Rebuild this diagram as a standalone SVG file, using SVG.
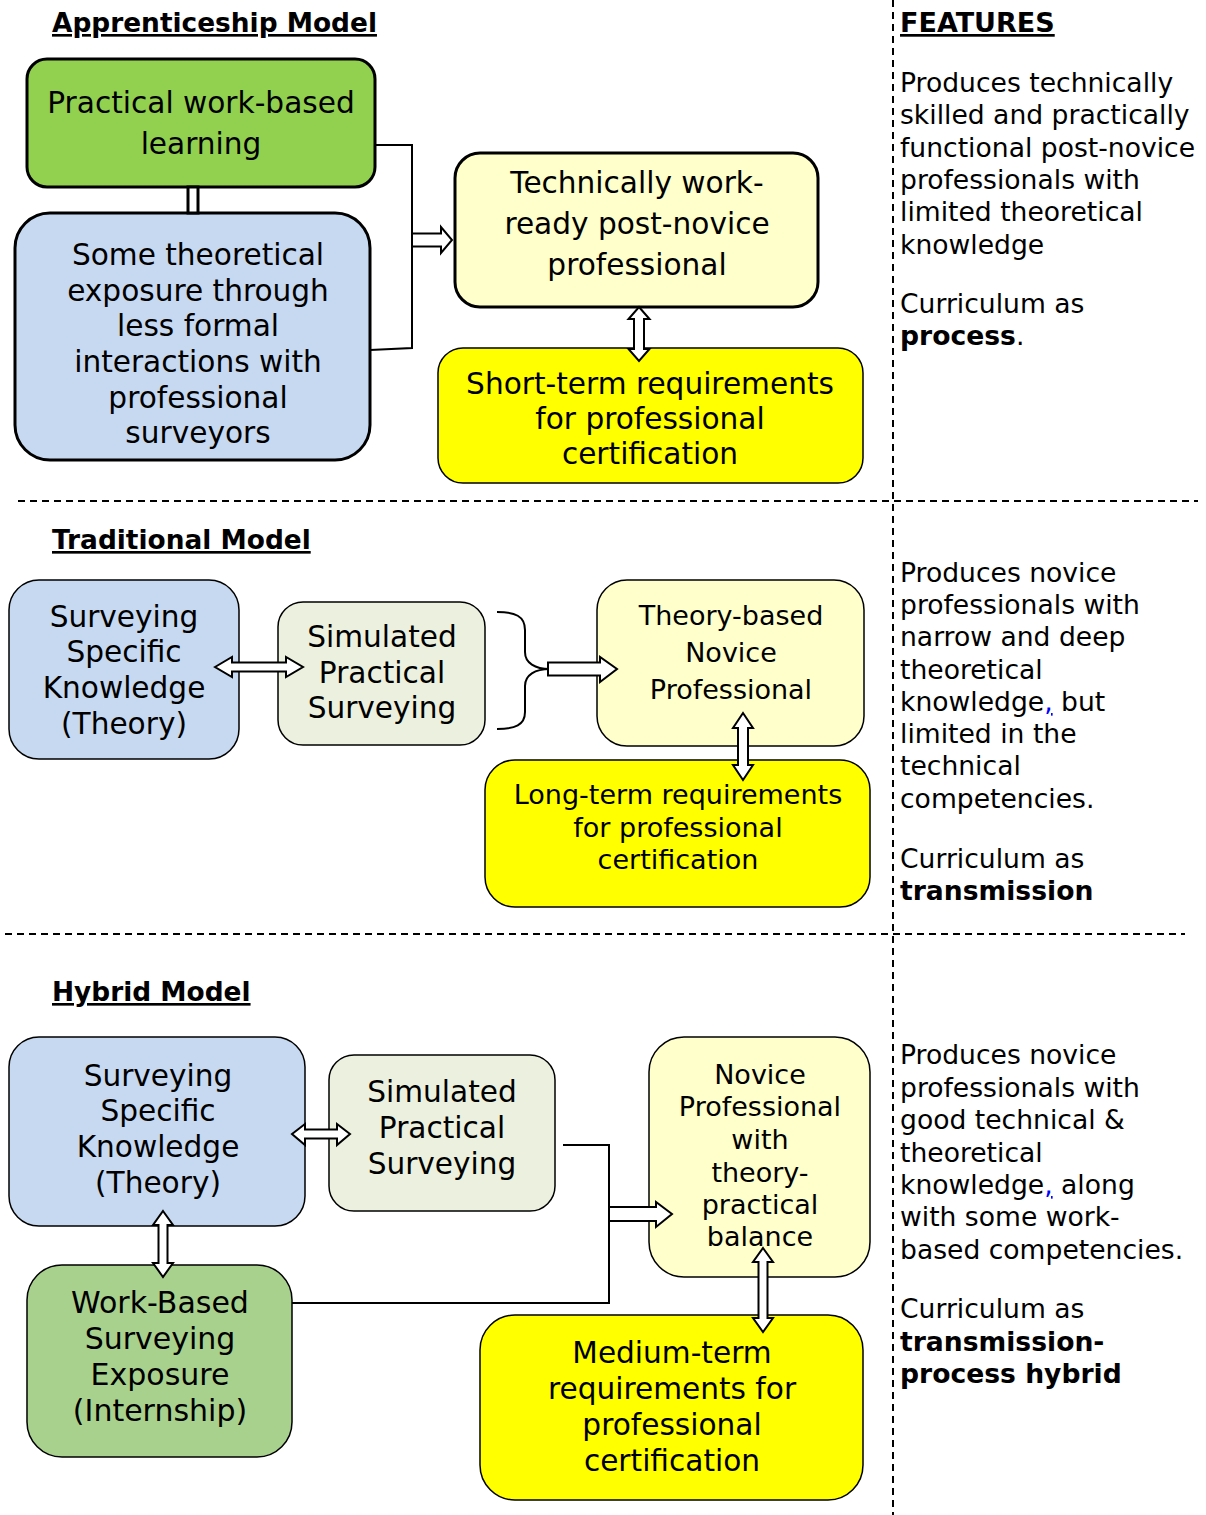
<svg xmlns="http://www.w3.org/2000/svg" width="1206" height="1515" viewBox="0 0 1206 1515">
<style>
text{font-family:"DejaVu Sans",Verdana,sans-serif;fill:#000}
.t{font-size:29.6px;text-anchor:middle}
.m{font-size:27px}
.f{font-size:26.6px}
.h{font-size:26.4px;font-weight:bold;text-decoration:underline}
.b{font-weight:bold}
.box{stroke:#000}
.thick{stroke-width:3}
.thin{stroke-width:1.5}
.arr{fill:#fff;stroke:#000;stroke-width:2;stroke-linejoin:miter}
.con{fill:none;stroke:#000;stroke-width:2}
.dash{stroke:#000;stroke-width:2;stroke-dasharray:7,5}
.bl{fill:#00f;text-decoration:underline}
</style>
<rect width="1206" height="1515" fill="#fff"/>
<g id="dividers">
<line class="dash" x1="893" y1="0" x2="893" y2="1515"/>
<line class="dash" x1="18" y1="501" x2="1198" y2="501"/>
<line class="dash" x1="5" y1="934" x2="1185" y2="934"/>
</g>
<g id="titles">
<text class="h" x="52" y="32">Apprenticeship Model</text>
<text class="h" x="52" y="549">Traditional Model</text>
<text class="h" x="52" y="1001">Hybrid Model</text>
<text class="h" x="900" y="32" style="font-size:27px">FEATURES</text>
</g>
<g id="n1">
<rect class="box thick" x="27" y="59" width="348" height="128" rx="20" fill="#92D050"/>
<text class="t" x="201" y="113">Practical work-based</text>
<text class="t" x="201" y="154">learning</text>
</g>
<g id="n2">
<rect class="box thick" x="15" y="213" width="355" height="247" rx="35" fill="#C6D9F1"/>
<text class="t" x="198" y="265">Some theoretical</text>
<text class="t" x="198" y="301">exposure through</text>
<text class="t" x="198" y="336">less formal</text>
<text class="t" x="198" y="372">interactions with</text>
<text class="t" x="198" y="408">professional</text>
<text class="t" x="198" y="443">surveyors</text>
</g>
<g id="n3">
<rect class="box thick" x="455" y="153" width="363" height="154" rx="25" fill="#FFFFCC"/>
<text class="t" x="637" y="193">Technically work-</text>
<text class="t" x="637" y="234">ready post-novice</text>
<text class="t" x="637" y="275">professional</text>
</g>
<g id="n4">
<rect class="box thin" x="438" y="348" width="425" height="135" rx="25" fill="#FFFF00"/>
<text class="t" x="650" y="394">Short-term requirements</text>
<text class="t" x="650" y="429">for professional</text>
<text class="t" x="650" y="464">certification</text>
</g>
<g id="n5">
<rect class="box thin" x="9" y="580" width="230" height="179" rx="30" fill="#C6D9F1"/>
<text class="t" x="124" y="627">Surveying</text>
<text class="t" x="124" y="662">Specific</text>
<text class="t" x="124" y="698">Knowledge</text>
<text class="t" x="124" y="734">(Theory)</text>
</g>
<g id="n6">
<rect class="box thin" x="278" y="602" width="207" height="143" rx="25" fill="#EBF1DE"/>
<text class="t" x="382" y="647">Simulated</text>
<text class="t" x="382" y="683">Practical</text>
<text class="t" x="382" y="718">Surveying</text>
</g>
<g id="n7">
<rect class="box thin" x="597" y="580" width="267" height="166" rx="30" fill="#FFFFCC"/>
<text class="t m" x="731" y="625">Theory-based</text>
<text class="t m" x="731" y="662">Novice</text>
<text class="t m" x="731" y="699">Professional</text>
</g>
<g id="n8">
<rect class="box thin" x="485" y="760" width="385" height="147" rx="30" fill="#FFFF00"/>
<text class="t m" x="678" y="804">Long-term requirements</text>
<text class="t m" x="678" y="837">for professional</text>
<text class="t m" x="678" y="869">certification</text>
</g>
<g id="n9">
<rect class="box thin" x="9" y="1037" width="296" height="189" rx="30" fill="#C6D9F1"/>
<text class="t" x="158" y="1086">Surveying</text>
<text class="t" x="158" y="1121">Specific</text>
<text class="t" x="158" y="1157">Knowledge</text>
<text class="t" x="158" y="1193">(Theory)</text>
</g>
<g id="n10">
<rect class="box thin" x="329" y="1055" width="226" height="156" rx="25" fill="#EBF1DE"/>
<text class="t" x="442" y="1102">Simulated</text>
<text class="t" x="442" y="1138">Practical</text>
<text class="t" x="442" y="1174">Surveying</text>
</g>
<g id="n11">
<rect class="box thin" x="649" y="1037" width="221" height="240" rx="35" fill="#FFFFCC"/>
<text class="t m" x="760" y="1084">Novice</text>
<text class="t m" x="760" y="1116">Professional</text>
<text class="t m" x="760" y="1149">with</text>
<text class="t m" x="760" y="1182">theory-</text>
<text class="t m" x="760" y="1214">practical</text>
<text class="t m" x="760" y="1246">balance</text>
</g>
<g id="n12">
<rect class="box thin" x="27" y="1265" width="265" height="192" rx="35" fill="#A9D18E"/>
<text class="t" x="160" y="1313" style="font-size:30px">Work-Based</text>
<text class="t" x="160" y="1349" style="font-size:30px">Surveying</text>
<text class="t" x="160" y="1385" style="font-size:30px">Exposure</text>
<text class="t" x="160" y="1421" style="font-size:30px">(Internship)</text>
</g>
<g id="n13">
<rect class="box thin" x="480" y="1315" width="383" height="185" rx="35" fill="#FFFF00"/>
<text class="t" x="672" y="1363">Medium-term</text>
<text class="t" x="672" y="1399">requirements for</text>
<text class="t" x="672" y="1435">professional</text>
<text class="t" x="672" y="1471">certification</text>
</g>
<g id="connectors">
<rect x="188" y="187" width="10" height="26" fill="#fff" stroke="#000" stroke-width="3"/>
<polyline class="con" points="375,145 412,145 412,348 370,350"/>
<path class="arr" d="M412,233.5 L441,233.5 L441,227 L452,240 L441,253 L441,246.5 L412,246.5 Z"/>
<path class="arr" d="M639,307 L649.5,319 L644,319 L644,349 L649.5,349 L639,361 L628.5,349 L634,349 L634,319 L628.5,319 Z"/>
<path class="arr" d="M215,667 L232,657 L232,662.5 L286,662.5 L286,657 L303,667 L286,677 L286,671.5 L232,671.5 L232,677 Z"/>
<path class="con" d="M497,612 C515,612 525,616 525,630 L525,652 C525,663 535,669 550,669 M550,669 C535,669 525,675 525,686 L525,712 C525,725 515,729 497,729"/>
<path class="arr" d="M548,662.5 L600,662.5 L600,657 L617,669 L600,682 L600,675.5 L548,675.5 Z"/>
<path class="arr" d="M743,713 L753,728 L748,728 L748,765 L753,765 L743,780 L733,765 L738,765 L738,728 L733,728 Z"/>
<path class="arr" d="M292,1134 L305,1124 L305,1129.5 L337,1129.5 L337,1124 L350,1134 L337,1145 L337,1138.5 L305,1138.5 L305,1145 Z"/>
<polyline class="con" points="563,1145 609,1145 609,1303 292,1303"/>
<path class="arr" d="M609,1207 L656,1207 L656,1202 L672,1214 L656,1227 L656,1221 L609,1221 Z"/>
<path class="arr" d="M163,1211 L173,1225 L167.5,1225 L167.5,1263 L173,1263 L163,1277 L153,1263 L158.5,1263 L158.5,1225 L153,1225 Z"/>
<path class="arr" d="M763,1248 L773,1262 L767.5,1262 L767.5,1318 L773,1318 L763,1332 L753,1318 L758.5,1318 L758.5,1262 L753,1262 Z"/>
</g>
<g id="features1">
<text class="f" x="900" y="92">Produces technically</text>
<text class="f" x="900" y="124">skilled and practically</text>
<text class="f" x="900" y="157">functional post-novice</text>
<text class="f" x="900" y="189">professionals with</text>
<text class="f" x="900" y="221">limited theoretical</text>
<text class="f" x="900" y="254">knowledge</text>
<text class="f" x="900" y="313">Curriculum as</text>
<text class="f" x="900" y="345"><tspan class="b">process</tspan>.</text>
</g>
<g id="features2">
<text class="f" x="900" y="582">Produces novice</text>
<text class="f" x="900" y="614">professionals with</text>
<text class="f" x="900" y="646">narrow and deep</text>
<text class="f" x="900" y="679">theoretical</text>
<text class="f" x="900" y="711">knowledge<tspan class="bl">,</tspan> but</text>
<text class="f" x="900" y="743">limited in the</text>
<text class="f" x="900" y="775">technical</text>
<text class="f" x="900" y="808">competencies.</text>
<text class="f" x="900" y="868">Curriculum as</text>
<text class="f b" x="900" y="900">transmission</text>
</g>
<g id="features3">
<text class="f" x="900" y="1064">Produces novice</text>
<text class="f" x="900" y="1097">professionals with</text>
<text class="f" x="900" y="1129">good technical &amp;</text>
<text class="f" x="900" y="1162">theoretical</text>
<text class="f" x="900" y="1194">knowledge<tspan class="bl">,</tspan> along</text>
<text class="f" x="900" y="1226">with some work-</text>
<text class="f" x="900" y="1259">based competencies.</text>
<text class="f" x="900" y="1318">Curriculum as</text>
<text class="f b" x="900" y="1351">transmission-</text>
<text class="f b" x="900" y="1383">process hybrid</text>
</g>
</svg>
